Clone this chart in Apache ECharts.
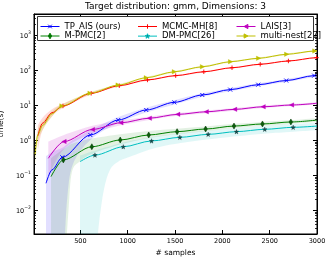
<!DOCTYPE html>
<html><head><meta charset="utf-8">
<script src="https://cdn.jsdelivr.net/npm/echarts@6/dist/echarts.min.js"></script>
<style>html,body{margin:0;padding:0;background:#fff}#c{width:332px;height:259px}</style>
</head><body><div id="c"></div><script>
const titleText = 'Target distribution: gmm, Dimensions: 3';
const xName = '# samples';
const yName = 'time(s)';
const seriesNames = ['TP_AIS (ours)', 'MCMC-MH[8]', 'LAIS[3]', 'M-PMC[2]', 'DM-PMC[26]', 'multi-nest[27]'];

// TP_AIS (ours)
const tpX = [137, 200, 309, 605, 900, 1196, 1492, 1788, 2083, 2379, 2675, 2970, 3000];
const tpY = [0.058, 0.14, 0.32, 1.39, 3.73, 7.2, 11.9, 19.3, 27.5, 38, 50, 69, 71];
const tpMarkX = [309, 605, 900, 1196, 1492, 1788, 2083, 2379, 2675, 2970];
const tpBandX = [137, 200, 309, 330, 360, 420, 605, 900, 1196, 1492, 1788, 2083, 2379, 2675, 2970, 3000];
const tpLo = [1e-4, 1e-4, 1e-4, 1e-4, 0.02, 0.2, 1.0, 3.05, 6.1, 10.4, 17.2, 24.8, 34.5, 45.6, 63, 65];
const tpHi = [0.35, 0.45, 0.6, 0.65, 0.75, 1.0, 1.9, 4.55, 8.4, 13.6, 21.5, 30.3, 41.5, 54.5, 75, 77];

// MCMC-MH[8]
const mhX = [50, 100, 200, 316, 614, 911, 1209, 1507, 1804, 2102, 2400, 2698, 2995, 3000];
const mhY = [1.3, 3.0, 6.0, 9.4, 21.6, 35.6, 52, 69, 89, 116, 146, 181, 225, 226];
const mhMarkX = [316, 614, 911, 1209, 1507, 1804, 2102, 2400, 2698, 2995];
const mhLo = [0.5, 1.9, 4.7, 8.2, 20, 33.5, 49.5, 66, 85.5, 111.5, 140, 174.5, 217, 218];
const mhHi = [2.6, 4.3, 7.5, 10.8, 23.3, 37.8, 54.6, 72, 92.5, 120.5, 152, 187.5, 233, 234];

// LAIS[3]
const laX = [161, 327, 628, 928, 1229, 1529, 1830, 2130, 2431, 2731, 3000];
const laY = [0.30, 0.9, 2.0, 3.1, 4.2, 5.4, 6.4, 7.5, 8.9, 10.0, 11.2];
const laMarkX = [327, 628, 928, 1229, 1529, 1830, 2130, 2431, 2731];
const laLo = [0.09, 0.55, 1.55, 2.65, 3.75, 4.9, 5.85, 6.9, 8.2, 9.3, 10.4];
const laHi = [0.9, 1.4, 2.55, 3.6, 4.7, 5.95, 7.0, 8.15, 9.65, 10.8, 12.0];

// M-PMC[2]
const mpX = [190, 320, 621, 921, 1222, 1522, 1823, 2123, 2424, 2724, 3000];
const mpY = [0.09, 0.27, 0.64, 1.0, 1.39, 1.73, 2.06, 2.5, 2.87, 3.27, 3.7];
const mpMarkX = [320, 621, 921, 1222, 1522, 1823, 2123, 2424, 2724];
const mpBandX = [190, 320, 345, 375, 410, 500, 621, 921, 1222, 1522, 1823, 2123, 2424, 2724, 3000];
const mpLo = [1e-4, 1e-4, 1e-4, 0.01, 0.12, 0.25, 0.4, 0.74, 1.12, 1.45, 1.78, 2.18, 2.52, 2.88, 3.25];
const mpHi = [0.3, 0.55, 0.6, 0.68, 0.78, 0.92, 1.1, 1.45, 1.8, 2.1, 2.42, 2.9, 3.28, 3.7, 4.2];

// DM-PMC[26]
const dmX = [496, 654, 953, 1252, 1551, 1850, 2149, 2448, 2748, 3000];
const dmY = [0.24, 0.37, 0.64, 0.94, 1.19, 1.45, 1.73, 2.02, 2.3, 2.5];
const dmMarkX = [654, 953, 1252, 1551, 1850, 2149, 2448, 2748];
const dmBandX = [496, 600, 665, 700, 750, 812, 900, 1024, 1300, 1600, 2000, 2500, 3000];
const dmLo = [1e-4, 1e-4, 1e-4, 0.005, 0.04, 0.14, 0.24, 0.33, 0.6, 0.85, 1.15, 1.55, 1.9];
const dmHi = [0.36, 0.45, 0.5, 0.55, 0.6, 0.66, 0.78, 0.93, 1.25, 1.58, 2.0, 2.6, 3.1];

// multi-nest[27]
const mnX = [20, 50, 100, 200, 305, 602, 899, 1196, 1493, 1790, 2087, 2383, 2680, 2977, 3000];
const mnY = [0.37, 1.4, 2.6, 5.6, 9.4, 21.6, 37, 60, 89, 124, 173, 216, 281, 349, 355];
const mnMarkX = [305, 602, 899, 1196, 1493, 1790, 2087, 2383, 2680, 2977];
const mnLo = [0.2, 0.85, 1.9, 4.7, 8.5, 20.3, 35, 57, 85, 118, 165, 206, 268, 333, 339];
const mnHi = [0.6, 2.0, 3.3, 6.6, 10.4, 23, 39, 63, 93, 130, 181, 226, 294, 365, 371];

const xMin = 10, xMax = 3000, yMin = 0.00206, yMax = 3981;
const minorMult = [2, 3, 4, 5, 6, 7, 8, 9];
const decades = [0.001, 0.01, 0.1, 1, 10, 100, 1000];

const FONT = 'DejaVu Sans';
const PATH_X = 'path://M0,0L10,10M0,10L10,0';
const PATH_PLUS = 'path://M5,0L5,10M0,5L10,5';
const PATH_STAR = 'path://M50,0L61.76,33.82L97.55,34.55L69.02,56.18L79.39,90.45L50,70L20.61,90.45L30.98,56.18L2.45,34.55L38.24,33.82Z';

// legend icons: line + marker
const LEG_X = 'path://M0,3L19,3M7.7,1.2L11.3,4.8M7.7,4.8L11.3,1.2';
const LEG_PLUS = 'path://M0,3L19,3M9.5,0.8L9.5,5.2M7.3,3L11.7,3';
const LEG_LEFT = 'path://M0,3L19,3M7.6,3L11.4,0.9L11.4,5.1Z';
const LEG_DIAM = 'path://M0,3L19,3M9.5,0.2L11.1,3L9.5,5.8L7.9,3Z';
const LEG_STAR = 'path://M0,3L19,3M9.5,0.6L10.09,2.29L11.88,2.33L10.45,3.41L10.97,5.12L9.5,4.1L8.03,5.12L8.55,3.41L7.12,2.33L8.91,2.29Z';
const LEG_RIGHT = 'path://M0,3L19,3M11.4,3L7.6,0.9L7.6,5.1Z';

const styles = [
  {color: '#0000ff', band: 'rgba(60,40,255,0.15)', symbol: PATH_X, size: 4, fill: 'none', border: '#0000ff', bw: 0.9, leg: LEG_X},
  {color: '#ff0000', band: 'rgba(255,0,0,0.14)', symbol: PATH_PLUS, size: 4.5, fill: 'none', border: '#ff0000', bw: 0.9, leg: LEG_PLUS},
  {color: '#bf00bf', band: 'rgba(191,0,191,0.14)', symbol: 'triangle', size: 4.5, rot: 90, fill: '#bf00bf', border: '#bf00bf', bw: 0.3, leg: LEG_LEFT},
  {color: '#008000', band: 'rgba(0,128,0,0.11)', symbol: 'diamond', size: [3.5, 6], fill: '#0b5e0b', border: '#003300', bw: 0.5, leg: LEG_DIAM},
  {color: '#00bfbf', band: 'rgba(0,191,191,0.12)', symbol: PATH_STAR, size: 4.5, fill: '#145050', border: '#002020', bw: 0.3, leg: LEG_STAR},
  {color: '#bfbf00', band: 'rgba(191,191,0,0.2)', symbol: 'triangle', size: 4.5, rot: -90, fill: '#bfbf00', border: '#bfbf00', bw: 0.3, leg: LEG_RIGHT}
];

const lineDefs = [
  [tpX, tpY, tpMarkX],
  [mhX, mhY, mhMarkX],
  [laX, laY, laMarkX],
  [mpX, mpY, mpMarkX],
  [dmX, dmY, dmMarkX],
  [mnX, mnY, mnMarkX]
];
const bandDefs = [
  [tpBandX, tpLo, tpHi],
  [mhX, mhLo, mhHi],
  [laX, laLo, laHi],
  [mpBandX, mpLo, mpHi],
  [dmBandX, dmLo, dmHi],
  [mnX, mnLo, mnHi]
];

function curveSegs(pts) {
  let d = '';
  for (let i = 0; i < pts.length - 1; i++) {
    const p0 = pts[i - 1] || pts[i], p1 = pts[i], p2 = pts[i + 1], p3 = pts[i + 2] || p2;
    const c1 = [p1[0] + (p2[0] - p0[0]) / 6, p1[1] + (p2[1] - p0[1]) / 6];
    const c2 = [p2[0] - (p3[0] - p1[0]) / 6, p2[1] - (p3[1] - p1[1]) / 6];
    d += 'C' + c1[0].toFixed(2) + ',' + c1[1].toFixed(2) + ',' + c2[0].toFixed(2) + ',' + c2[1].toFixed(2) + ',' + p2[0].toFixed(2) + ',' + p2[1].toFixed(2);
  }
  return d;
}
const clampY = v => Math.min(Math.max(v, yMin * 0.4), yMax);

const series = [];
bandDefs.forEach((b, i) => {
  const [bx, lo, hi] = b;
  series.push({
    type: 'custom', name: 'band_' + i, silent: true, z: 1, clip: true, animation: false,
    data: bx.map((x, k) => [x, lo[k], hi[k]]),
    encode: {x: 0, y: [1, 2]},
    renderItem: (params, api) => {
      if (params.dataIndex !== 0) return null;
      const cs = params.coordSys;
      const up = bx.map((x, k) => api.coord([x, clampY(hi[k])]));
      const dn = bx.map((x, k) => api.coord([x, clampY(lo[k])])).reverse();
      const d = 'M' + up[0][0] + ',' + up[0][1] + curveSegs(up) + 'L' + dn[0][0] + ',' + dn[0][1] + curveSegs(dn) + 'Z';
      return {
        type: 'path', shape: {pathData: d},
        style: {fill: styles[i].band, stroke: null},
        clipPath: {type: 'rect', shape: {x: cs.x, y: cs.y, width: cs.width, height: cs.height}}
      };
    }
  });
});
lineDefs.forEach((d, i) => {
  const [xs, ys, marks] = d;
  const st = styles[i];
  series.push({
    type: 'line', name: seriesNames[i], smooth: 0.3, smoothMonotone: 'x',
    data: xs.map((x, k) => marks.includes(x) ? [x, ys[k]] : {value: [x, ys[k]], symbol: 'none'}),
    color: st.color,
    symbol: st.symbol, symbolSize: st.size, symbolRotate: st.rot || 0, showSymbol: true,
    lineStyle: {color: st.color, width: 1},
    itemStyle: {color: st.fill, borderColor: st.border, borderWidth: st.bw},
    z: 3, clip: true, animation: false
  });
});

const minorVals = [];
decades.forEach(d => minorMult.forEach(m => { const v = d * m; if (v > yMin && v < yMax) minorVals.push(v); }));
series.push({
  type: 'custom', name: 'minor', silent: true, z: 5, animation: false,
  data: minorVals.map(v => [xMin, v]),
  renderItem: (params, api) => {
    const p = api.coord([api.value(0), api.value(1)]);
    const cs = params.coordSys;
    const y = Math.round(p[1]) + 0.5;
    return {type: 'group', children: [
      {type: 'line', shape: {x1: cs.x, y1: y, x2: cs.x + 2, y2: y}, style: {stroke: '#000', lineWidth: 0.8}},
      {type: 'line', shape: {x1: cs.x + cs.width - 2, y1: y, x2: cs.x + cs.width, y2: y}, style: {stroke: '#000', lineWidth: 0.8}}
    ]};
  }
});

const legendItem = i => ({
  name: seriesNames[i], icon: styles[i].leg,
  itemStyle: {color: styles[i].fill === 'none' ? 'rgba(0,0,0,0)' : styles[i].fill, borderColor: styles[i].color, borderWidth: 1, opacity: 1}
});
const legendText = {fontSize: 8.5, fontFamily: FONT, color: '#000'};
const legendBase = {orient: 'vertical', top: 22, itemGap: 0.5, itemWidth: 19, itemHeight: 6, padding: 0,
  textStyle: legendText, selectedMode: false, z: 6, symbolKeepAspect: true};

const option = {
  animation: false,
  backgroundColor: '#fff',
  title: {text: titleText, left: 175.5, textAlign: 'center', top: 2, padding: 0,
    textStyle: {fontSize: 9, fontWeight: 'normal', fontFamily: FONT, color: '#000'}},
  grid: {left: 34, right: 15, top: 14, bottom: 25, show: true, borderColor: '#000', borderWidth: 1, containLabel: false, outerBoundsMode: 'none'},
  legend: [
    Object.assign({left: 40, data: [legendItem(0), legendItem(3)]}, legendBase),
    Object.assign({left: 137.5, data: [legendItem(1), legendItem(4)]}, legendBase),
    Object.assign({left: 236, data: [legendItem(2), legendItem(5)]}, legendBase)
  ],
  graphic: [{type: 'rect', left: 37, top: 16, z: 5, silent: true,
    shape: {width: 276, height: 24}, style: {fill: '#fff', stroke: '#333', lineWidth: 1}}],
  xAxis: [{
    type: 'value', min: xMin, max: xMax, splitNumber: 6, name: xName, nameLocation: 'middle', nameGap: 12,
    nameTextStyle: {fontSize: 7.5, fontFamily: FONT, color: '#000'},
    axisLine: {show: true, lineStyle: {color: '#000', width: 1}},
    axisTick: {show: true, inside: true, length: 4, lineStyle: {color: '#000', width: 1}},
    axisLabel: {fontSize: 6.5, fontFamily: FONT, color: '#000', margin: 3.5, showMinLabel: false, formatter: v => String(v)},
    splitLine: {show: false}
  }, {
    type: 'value', min: xMin, max: xMax, splitNumber: 6, position: 'top',
    axisLine: {show: true, lineStyle: {color: '#000', width: 1}},
    axisTick: {show: true, inside: true, length: 4, lineStyle: {color: '#000', width: 1}},
    axisLabel: {show: false}, splitLine: {show: false}
  }],
  yAxis: [{
    type: 'log', logBase: 10, min: yMin, max: yMax, name: yName, nameLocation: 'middle', nameGap: 25, nameRotate: 90,
    nameTextStyle: {fontSize: 7.5, fontFamily: FONT, color: '#000'},
    axisLine: {show: true, lineStyle: {color: '#000', width: 1}},
    axisTick: {show: true, inside: true, length: 4, lineStyle: {color: '#000', width: 1}},
    axisLabel: {
      fontFamily: FONT, color: '#000', margin: 3, showMinLabel: false, showMaxLabel: false,
      formatter: v => { const e = Math.round(Math.log10(v)); return '{b|10}{s|' + (e < 0 ? '\u2212' : '') + Math.abs(e) + '}'; },
      rich: {
        b: {fontSize: 6.5, fontFamily: FONT, color: '#000', verticalAlign: 'bottom', lineHeight: 10},
        s: {fontSize: 4.6, fontFamily: FONT, color: '#000', verticalAlign: 'top', lineHeight: 10}
      }
    },
    splitLine: {show: false}
  }, {
    type: 'log', logBase: 10, min: yMin, max: yMax, position: 'right',
    axisLine: {show: true, lineStyle: {color: '#000', width: 1}},
    axisTick: {show: true, inside: true, length: 4, lineStyle: {color: '#000', width: 1}},
    axisLabel: {show: false}, splitLine: {show: false}
  }],
  series: series
};

const chart = echarts.init(document.getElementById('c'), null, {renderer: 'canvas'});
chart.setOption(option);
</script></body></html>
